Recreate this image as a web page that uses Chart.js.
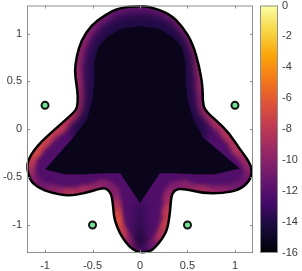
<!DOCTYPE html>
<html>
<head>
<meta charset="utf-8">
<script src="https://cdn.jsdelivr.net/npm/chart.js@4.4.1/dist/chart.umd.min.js"></script>
<style>
  html, body { margin: 0; padding: 0; background: #fff; }
  #wrap { width: 302px; height: 271px; position: relative; }
</style>
</head>
<body>
<div id="wrap"><canvas id="myChart"></canvas></div>
<script>
// domain boundary, clockwise from the top (right half down, then left half up)
const edgeX = [0, 0.10, 0.31, 0.45, 0.555, 0.625, 0.66, 0.66, 0.678, 0.80, 0.94, 1.045, 1.15, 1.185, 1.15, 1.045, 0.87, 0.66, 0.45, 0.362, 0.328, 0.317, 0.292, 0.24, 0.152, 0.10,
  0, -0.076, -0.145, -0.215, -0.268, -0.278, -0.286, -0.303, -0.355, -0.408, -0.583, -0.758, -0.933, -1.074, -1.161, -1.19, -1.179, -1.11, -1.02, -0.85, -0.688, -0.66, -0.653, -0.67, -0.688, -0.67, -0.618, -0.513, -0.373, -0.215];
const edgeY = [1.29, 1.278, 1.209, 1.069, 0.896, 0.652, 0.443, 0.305, 0.20, 0.096, -0.043, -0.199, -0.339, -0.443, -0.548, -0.634, -0.669, -0.669, -0.617, -0.634, -0.704, -0.861, -1.034, -1.138, -1.243, -1.278,
  -1.288, -1.26, -1.19, -1.086, -0.947, -0.864, -0.773, -0.669, -0.617, -0.617, -0.669, -0.697, -0.664, -0.612, -0.53, -0.408, -0.321, -0.21, -0.11, 0.04, 0.183, 0.235, 0.339, 0.479, 0.60, 0.756, 0.93, 1.087, 1.191, 1.272];
// log10 error along the boundary (same order)
const edgeErr = [-11.5, -11.5, -11, -10.5, -10, -9.5, -9.5, -10, -9.5, -9, -8.5, -8.5, -9.5, -10, -11, -11, -10, -9, -10, -10.5, -9.5, -8, -7.5, -8.5, -10.5, -11.5,
  -12.5, -11.5, -10, -8, -6.5, -7, -8.5, -10, -10.5, -10, -9, -8.5, -10, -11, -10.5, -9, -8, -7, -7.5, -8, -8.5, -9, -9.5, -9.5, -9.5, -10, -10, -10.5, -11, -11.5];

// region where the error is at machine precision
const coreX = [0, 0.2, 0.35, 0.44, 0.48, 0.48, 0.5, 0.56, 0.66, 1.05, 0.79, 0.58, 0.37, 0.21, 0, -0.21, -0.37, -0.58, -0.79, -1.0, -0.7, -0.56, -0.5, -0.48, -0.48, -0.44, -0.35, -0.2];
const coreY = [1.08, 1.05, 0.96, 0.86, 0.7, 0.5, 0.3, 0.1, -0.08, -0.41, -0.47, -0.47, -0.46, -0.46, -0.77, -0.46, -0.46, -0.47, -0.47, -0.42, -0.08, 0.1, 0.3, 0.5, 0.7, 0.86, 0.96, 1.05];
const coreErr = -15.3;

// darker band round the core in the upper part
const midX = [0, 0.28, 0.44, 0.53, 0.57, 0.57, 0.59, 0.64, 0.78, 0.3, -0.3, -0.78, -0.64, -0.59, -0.57, -0.57, -0.53, -0.44, -0.28];
const midY = [1.22, 1.16, 1.02, 0.86, 0.68, 0.45, 0.27, 0.12, -0.06, -0.3, -0.3, -0.06, 0.12, 0.27, 0.45, 0.68, 0.86, 1.02, 1.16];
const midErr = -14;

// dark ridge down the bottom lobe
const ridgeX = [0, 0, 0];
const ridgeY = [-0.8, -1.0, -1.2];
const ridgeErr = [-13.5, -13.8, -15];

// poles
const poleX = [-1, 1, -0.5, 0.5];
const poleY = [0.25, 0.25, -1, -1];

const xTicks = [-1, -0.5, 0, 0.5, 1];
const xTickLabels = ['-1', '-0.5', '0', '0.5', '1'];
const yTicks = [-1, -0.5, 0, 0.5, 1];
const yTickLabels = ['-1', '-0.5', '0', '0.5', '1'];
const cbTicks = [-16, -14, -12, -10, -8, -6, -4, -2, 0];
const cbTickLabels = ['-16', '-14', '-12', '-10', '-8', '-6', '-4', '-2', '0'];
const cMin = -16, cMax = 0;

// inferno
const cmapStops = ['#000004', '#160b39', '#420a68', '#6a176e', '#932667', '#bc3754', '#dd513a', '#f37819', '#fca50a', '#f6d746', '#fcffa4'];

function hex(h) {
  return [parseInt(h.slice(1, 3), 16), parseInt(h.slice(3, 5), 16), parseInt(h.slice(5, 7), 16)];
}
function cmap(v) {
  let t = (v - cMin) / (cMax - cMin);
  t = Math.max(0, Math.min(1, t)) * (cmapStops.length - 1);
  const i = Math.min(Math.floor(t), cmapStops.length - 2);
  const f = t - i;
  const a = hex(cmapStops[i]), b = hex(cmapStops[i + 1]);
  const c = a.map((u, k) => Math.round(u + (b[k] - u) * f));
  return 'rgb(' + c.join(',') + ')';
}

function toPx(chart, xs, ys) {
  const {x, y} = chart.scales;
  return xs.map((v, i) => [x.getPixelForValue(v), y.getPixelForValue(ys[i])]);
}
function smoothPath(ctx, pts) {
  const n = pts.length;
  const mid = (a, b) => [(a[0] + b[0]) / 2, (a[1] + b[1]) / 2];
  const m0 = mid(pts[n - 1], pts[0]);
  ctx.beginPath();
  ctx.moveTo(m0[0], m0[1]);
  for (let i = 0; i < n; i++) {
    const p = pts[i], m = mid(p, pts[(i + 1) % n]);
    ctx.quadraticCurveTo(p[0], p[1], m[0], m[1]);
  }
  ctx.closePath();
}
function polyPath(ctx, pts) {
  ctx.beginPath();
  pts.forEach((p, i) => i ? ctx.lineTo(p[0], p[1]) : ctx.moveTo(p[0], p[1]));
  ctx.closePath();
}

const fieldPlugin = {
  id: 'field',
  beforeDatasetsDraw(chart) {
    const ctx = chart.ctx;
    const edge = toPx(chart, edgeX, edgeY);
    ctx.save();
    smoothPath(ctx, edge);
    ctx.clip();
    ctx.fillStyle = cmap(-12.2);
    ctx.fill();

    // glow along the boundary
    ctx.filter = 'blur(2.5px)';
    ctx.lineWidth = 14;
    ctx.lineCap = 'round';
    for (let i = 0; i < edge.length; i++) {
      const p = edge[i], q = edge[(i + 1) % edge.length];
      const g = ctx.createLinearGradient(p[0], p[1], q[0], q[1]);
      g.addColorStop(0, cmap(edgeErr[i]));
      g.addColorStop(1, cmap(edgeErr[(i + 1) % edge.length]));
      ctx.strokeStyle = g;
      ctx.beginPath();
      ctx.moveTo(p[0], p[1]);
      ctx.lineTo(q[0], q[1]);
      ctx.stroke();
    }

    // darker band and core
    ctx.filter = 'blur(5px)';
    ctx.fillStyle = cmap(midErr);
    smoothPath(ctx, toPx(chart, midX, midY));
    ctx.fill();

    const r = toPx(chart, ridgeX, ridgeY);
    const rg = ctx.createLinearGradient(r[0][0], r[0][1], r[2][0], r[2][1]);
    ridgeErr.forEach((v, i) => rg.addColorStop(i / (ridgeErr.length - 1), cmap(v)));
    ctx.strokeStyle = rg;
    ctx.lineWidth = 9;
    ctx.beginPath();
    r.forEach((p, i) => i ? ctx.lineTo(p[0], p[1]) : ctx.moveTo(p[0], p[1]));
    ctx.stroke();

    ctx.filter = 'blur(0.7px)';
    ctx.fillStyle = cmap(coreErr);
    polyPath(ctx, toPx(chart, coreX, coreY));
    ctx.fill();
    ctx.restore();

    ctx.save();
    ctx.lineWidth = 2.5;
    ctx.strokeStyle = '#000';
    ctx.lineJoin = 'round';
    smoothPath(ctx, edge);
    ctx.stroke();
    ctx.restore();
  },
  afterDraw(chart) {
    const ctx = chart.ctx;
    const a = chart.chartArea;
    const {x, y, cb} = chart.scales;
    ctx.save();
    ctx.strokeStyle = '#8f8f8f';
    ctx.lineWidth = 1;
    ctx.strokeRect(a.left + 0.5, a.top + 0.5, a.right - a.left - 1, a.bottom - a.top - 1);
    ctx.beginPath();
    xTicks.forEach(v => {
      const px = Math.round(x.getPixelForValue(v)) + 0.5;
      ctx.moveTo(px, a.top); ctx.lineTo(px, a.top + 3);
      ctx.moveTo(px, a.bottom); ctx.lineTo(px, a.bottom - 3);
    });
    yTicks.forEach(v => {
      const py = Math.round(y.getPixelForValue(v)) + 0.5;
      ctx.moveTo(a.left, py); ctx.lineTo(a.left + 3, py);
      ctx.moveTo(a.right, py); ctx.lineTo(a.right - 3, py);
    });
    ctx.stroke();

    // colorbar
    const bx = a.right + 7, bw = 18;
    const top = cb.getPixelForValue(cMax), bot = cb.getPixelForValue(cMin);
    const g = ctx.createLinearGradient(0, bot, 0, top);
    cmapStops.forEach((c, i) => g.addColorStop(i / (cmapStops.length - 1), c));
    ctx.fillStyle = g;
    ctx.fillRect(bx, top, bw, bot - top);
    ctx.strokeRect(bx + 0.5, top + 0.5, bw - 1, bot - top - 1);
    ctx.restore();
  }
};

const tickFont = {family: '"Liberation Sans", Arial, sans-serif', size: 11};
const tickColor = '#3a3a3a';

const config = {
  type: 'scatter',
  data: {
    datasets: [{
      data: poleX.map((v, i) => ({x: v, y: poleY[i]})),
      pointRadius: 3.5,
      pointHoverRadius: 3.5,
      borderWidth: 2,
      backgroundColor: '#72e395',
      borderColor: '#111'
    }]
  },
  options: {
    responsive: true,
    maintainAspectRatio: false,
    animation: false,
    events: [],
    layout: {padding: {top: 5, left: 0, right: 0, bottom: 0}},
    plugins: {legend: {display: false}, tooltip: {enabled: false}},
    scales: {
      x: {
        type: 'linear', min: -1.19, max: 1.19,
        grid: {display: false, drawTicks: false}, border: {display: false},
        afterBuildTicks: s => { s.ticks = xTicks.map(v => ({value: v})); },
        afterFit: s => { s.height = 18; s.paddingLeft = 0; s.paddingRight = 0; },
        ticks: {font: tickFont, color: tickColor, padding: 6, maxRotation: 0, autoSkip: false,
          callback: (v) => xTickLabels[xTicks.indexOf(v)]}
      },
      y: {
        type: 'linear', min: -1.293, max: 1.293,
        grid: {display: false, drawTicks: false}, border: {display: false},
        afterBuildTicks: s => { s.ticks = yTicks.map(v => ({value: v})); },
        afterFit: s => { s.width = 27; s.paddingTop = 0; s.paddingBottom = 0; },
        ticks: {font: tickFont, color: tickColor, padding: 5, autoSkip: false,
          callback: (v) => yTickLabels[yTicks.indexOf(v)]}
      },
      cb: {
        type: 'linear', position: 'right', display: true, min: cMin, max: cMax,
        grid: {display: false, drawTicks: false}, border: {display: false},
        afterBuildTicks: s => { s.ticks = cbTicks.map(v => ({value: v})); },
        afterFit: s => { s.width = 49; s.paddingTop = 0; s.paddingBottom = 0; },
        ticks: {font: tickFont, color: tickColor, padding: 29, autoSkip: false,
          callback: (v) => cbTickLabels[cbTicks.indexOf(v)]}
      }
    }
  },
  plugins: [fieldPlugin]
};

const myChart = new Chart(document.getElementById('myChart'), config);
</script>
</body>
</html>
